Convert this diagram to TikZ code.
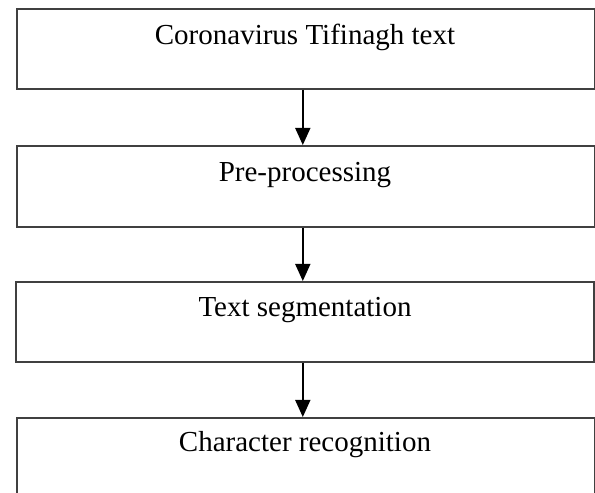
\documentclass[tikz,border=0pt]{standalone}
\usepackage{fontspec}
\setmainfont{Liberation Serif}
\usetikzlibrary{arrows.meta}
\begin{document}
\begin{tikzpicture}[x=1pt,y=1pt,
  stagebox/.style={draw=black!75,line width=1.6pt,rectangle,minimum width=578pt,inner sep=0pt,anchor=north west},
  stagetext/.style={anchor=base,inner sep=0pt,font=\fontsize{29}{33}\selectfont},
  flowarrow/.style={draw=black,line width=1.6pt,-{Triangle[length=17pt,width=15pt]}}]
\useasboundingbox (0,0) rectangle (595,493);
\clip (0,0) rectangle (595,493);
\node[stagebox,minimum height=80pt] (b1) at (16,485) {};
\node[stagebox,minimum height=81pt] (b2) at (16,348) {};
\node[stagebox,minimum height=80pt] (b3) at (15,212) {};
\node[stagebox,minimum height=100pt] (b4) at (16,76) {};
\node[stagetext] (t1) at (305,448) {Coronavirus Tifinagh text};
\node[stagetext] (t2) at (305,311) {Pre-processing};
\node[stagetext] (t3) at (305,176) {Text segmentation};
\node[stagetext] (t4) at (305,41) {Character recognition};
\draw[flowarrow] ([xshift=-3pt]b1.south) -- ([xshift=-3pt]b2.north);
\draw[flowarrow] ([xshift=-3pt]b2.south) -- ([xshift=-2pt]b3.north);
\draw[flowarrow] ([xshift=-2pt]b3.south) -- ([xshift=-3pt]b4.north);
\end{tikzpicture}
\end{document}
